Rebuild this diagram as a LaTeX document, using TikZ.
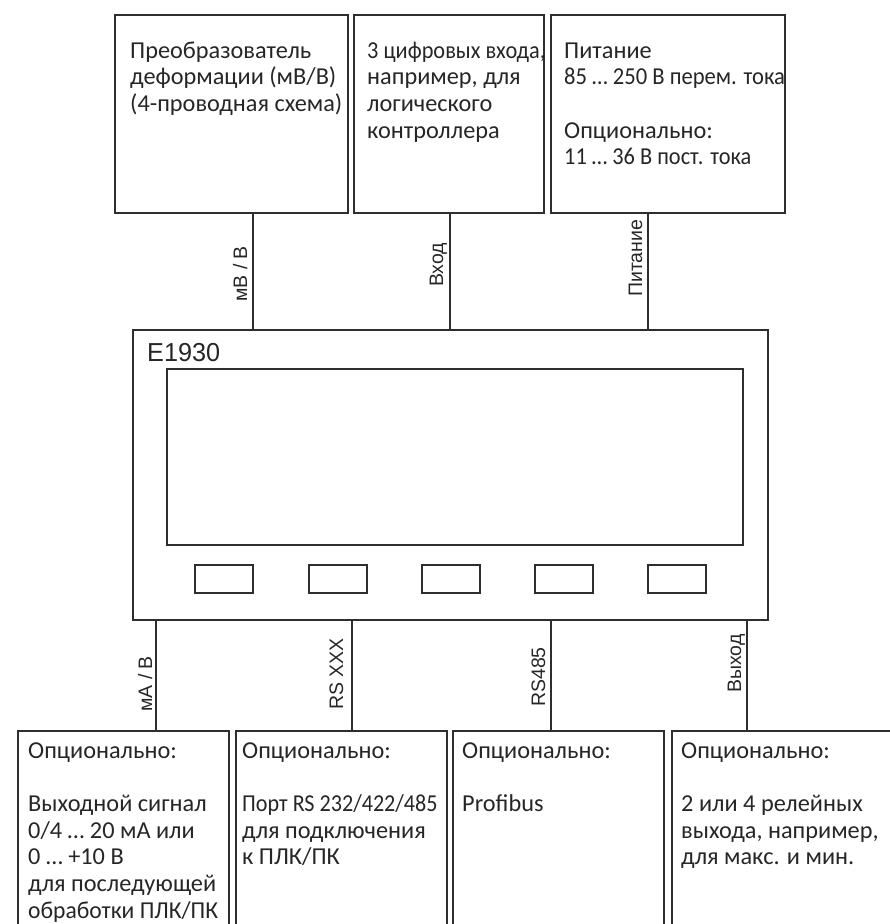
\documentclass[tikz,border=0pt]{standalone}
\usepackage{fontspec}
\setmainfont{Carlito}
\newfontfamily\lblfont{Liberation Sans}
\definecolor{ln}{HTML}{2E2E2E}
\definecolor{tx}{HTML}{262626}
\newcommand{\boxlines}[1]{\begin{tabular}[t]{@{}l@{}}#1\end{tabular}}
\newcommand{\squeeze}[2]{\scalebox{#1}[1]{#2}}
\begin{document}
\begin{tikzpicture}[x=1pt,y=-1pt,
  thinbox/.style={draw=ln,line width=1.2pt,anchor=north west,inner sep=0,outer sep=0},
  mainbox/.style={draw=ln,line width=2.6pt,anchor=north west,inner sep=0,outer sep=0},
  dispbox/.style={draw=ln,line width=2.2pt,anchor=north west,inner sep=0,outer sep=0},
  btn/.style={draw=ln,line width=2.2pt,anchor=north west,inner sep=0,outer sep=0,minimum width=58pt,minimum height=28pt},
  body/.style={anchor=base west,inner sep=0,text=tx,font=\fontsize{24.3}{26.7}\selectfont},
  lbl/.style={rotate=90,anchor=base west,inner sep=0,text=tx,font=\lblfont\fontsize{19.5}{22}\selectfont},
  conn/.style={draw=ln,line width=1.1pt}]
\useasboundingbox (0,0) rectangle (890,924);
\clip (0,0) rectangle (890,924);
% top boxes
\node[thinbox,minimum width=233pt,minimum height=198pt] (t1) at (115,15) {};
\node[thinbox,minimum width=190pt,minimum height=198pt] (t2) at (354,15) {};
\node[thinbox,minimum width=234pt,minimum height=198pt] (t3) at (551,15) {};
\node[body] (t1txt) at (130,58) {\boxlines{Преобразователь\\деформации (мВ/В)\\(4-проводная схема)}};
\node[body] (t2txt) at (367,58) {\boxlines{\squeeze{0.92}{3 цифровых входа,}\\например, для\\логического\\контроллера}};
\node[body] (t3txt) at (564,58) {\boxlines{Питание\\\squeeze{0.93}{85 … 250 В перем. тока}\\[26.7pt]Опционально:\\\squeeze{0.92}{11 … 36 В пост. тока}}};
% main unit
\node[mainbox,minimum width=635pt,minimum height=290pt] (main) at (133,330) {};
\node[anchor=base west,inner sep=0,text=tx,font=\lblfont\fontsize{26}{30}\selectfont] (name) at (147,361) {\scalebox{0.97}[1]{E1930}};
\node[dispbox,minimum width=576pt,minimum height=176pt] (disp) at (167,369) {};
\node[btn] (b1) at (195,565) {};
\node[btn] (b2) at (309,565) {};
\node[btn] (b3) at (422,565) {};
\node[btn] (b4) at (535,565) {};
\node[btn] (b5) at (648,565) {};
% bottom boxes
\node[thinbox,minimum width=211pt,minimum height=220pt] (u1) at (18,731) {};
\node[thinbox,minimum width=211pt,minimum height=220pt] (u2) at (236,731) {};
\node[thinbox,minimum width=211pt,minimum height=220pt] (u3) at (453,731) {};
\node[thinbox,minimum width=240pt,minimum height=220pt] (u4) at (672,731) {};
\node[body] (u1txt) at (28,758) {\boxlines{Опционально:\\[26.7pt]Выходной сигнал\\0/4 … 20 мА или\\0 … +10 В\\для последующей\\\squeeze{0.97}{обработки ПЛК/ПК}}};
\node[body] (u2txt) at (242,758) {\boxlines{Опционально:\\[26.7pt]\squeeze{0.91}{Порт RS 232/422/485}\\для подключения\\к ПЛК/ПК}};
\node[body] (u3txt) at (462,758) {\boxlines{Опционально:\\[26.7pt]Profibus}};
\node[body] (u4txt) at (681,758) {\boxlines{Опционально:\\[26.7pt]2 или 4 релейных\\выхода, например,\\для макс. и мин.}};
% connector x positions
\coordinate (xa) at (253,0);
\coordinate (xb) at (450,0);
\coordinate (xc) at (648,0);
\coordinate (xd) at (156,0);
\coordinate (xe) at (352,0);
\coordinate (xf) at (551,0);
\coordinate (xg) at (747,0);
\draw[conn] (t1.south -| xa) -- (main.north -| xa);
\draw[conn] (t2.south -| xb) -- (main.north -| xb);
\draw[conn] (t3.south -| xc) -- (main.north -| xc);
\draw[conn] (main.south -| xd) -- (u1.north -| xd);
\draw[conn] (main.south -| xe) -- (u2.north -| xe);
\draw[conn] (main.south -| xf) -- (u3.north -| xf);
\draw[conn] (main.south -| xg) -- (u4.north -| xg);
% connector labels
\node[lbl] (la) at (247,302) {мВ / В};
\node[lbl] (lb) at (443,287) {Вход};
\node[lbl] (lc) at (642,297) {Питание};
\node[lbl] (ld) at (152,712) {мА / В};
\node[lbl] (le) at (343,710) {RS XXX};
\node[lbl] (lf) at (545,707) {RS485};
\node[lbl] (lg) at (741,693) {Выход};
\end{tikzpicture}
\end{document}
